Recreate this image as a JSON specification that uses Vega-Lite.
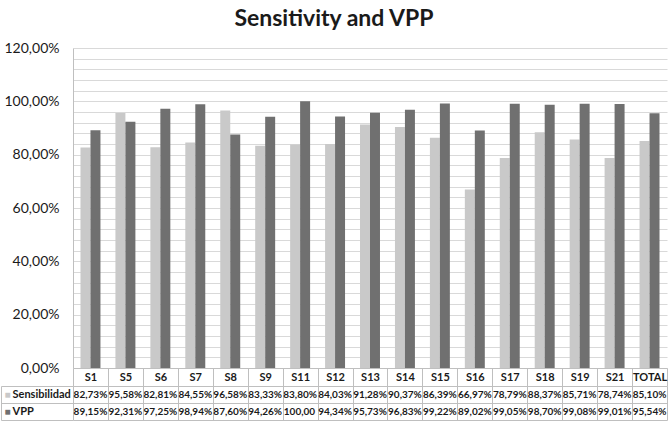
{
  "$schema": "https://vega.github.io/schema/vega-lite/v6.json",
  "padding": {"left": 0, "top": 8, "right": 0, "bottom": 0},
  "background": "#ffffff",
  "title": {
    "text": "Sensitivity and VPP",
    "font": "Lato",
    "fontSize": 23,
    "fontWeight": "bold",
    "color": "#1a1a1a",
    "anchor": "middle",
    "offset": 10
  },
  "datasets": {
    "scores": [
      {"cat": "S1", "serie": "Sensibilidad", "value": 0.8273},
      {"cat": "S1", "serie": "VPP", "value": 0.8915},
      {"cat": "S5", "serie": "Sensibilidad", "value": 0.9558},
      {"cat": "S5", "serie": "VPP", "value": 0.9231},
      {"cat": "S6", "serie": "Sensibilidad", "value": 0.8281},
      {"cat": "S6", "serie": "VPP", "value": 0.9725},
      {"cat": "S7", "serie": "Sensibilidad", "value": 0.8455},
      {"cat": "S7", "serie": "VPP", "value": 0.9894},
      {"cat": "S8", "serie": "Sensibilidad", "value": 0.9658},
      {"cat": "S8", "serie": "VPP", "value": 0.876},
      {"cat": "S9", "serie": "Sensibilidad", "value": 0.8333},
      {"cat": "S9", "serie": "VPP", "value": 0.9426},
      {"cat": "S11", "serie": "Sensibilidad", "value": 0.838},
      {"cat": "S11", "serie": "VPP", "value": 1.0},
      {"cat": "S12", "serie": "Sensibilidad", "value": 0.8403},
      {"cat": "S12", "serie": "VPP", "value": 0.9434},
      {"cat": "S13", "serie": "Sensibilidad", "value": 0.9128},
      {"cat": "S13", "serie": "VPP", "value": 0.9573},
      {"cat": "S14", "serie": "Sensibilidad", "value": 0.9037},
      {"cat": "S14", "serie": "VPP", "value": 0.9683},
      {"cat": "S15", "serie": "Sensibilidad", "value": 0.8639},
      {"cat": "S15", "serie": "VPP", "value": 0.9922},
      {"cat": "S16", "serie": "Sensibilidad", "value": 0.6697},
      {"cat": "S16", "serie": "VPP", "value": 0.8902},
      {"cat": "S17", "serie": "Sensibilidad", "value": 0.7879},
      {"cat": "S17", "serie": "VPP", "value": 0.9905},
      {"cat": "S18", "serie": "Sensibilidad", "value": 0.8837},
      {"cat": "S18", "serie": "VPP", "value": 0.987},
      {"cat": "S19", "serie": "Sensibilidad", "value": 0.8571},
      {"cat": "S19", "serie": "VPP", "value": 0.9908},
      {"cat": "S21", "serie": "Sensibilidad", "value": 0.7874},
      {"cat": "S21", "serie": "VPP", "value": 0.9901},
      {"cat": "TOTAL", "serie": "Sensibilidad", "value": 0.851},
      {"cat": "TOTAL", "serie": "VPP", "value": 0.9554}
    ]
  },
  "data": {"name": "scores"},
  "spacing": 18,
  "bounds": "flush",
  "resolve": {
    "scale": {"x": "independent", "y": "independent"},
    "axis": {"x": "independent", "y": "independent"}
  },
  "vconcat": [
    {
      "width": 594,
      "height": 320,
      "mark": {"type": "bar"},
      "encoding": {
        "x": {
          "field": "cat",
          "type": "nominal",
          "sort": null,
          "scale": {
            "domain": ["S1", "S5", "S6", "S7", "S8", "S9", "S11", "S12", "S13", "S14", "S15", "S16", "S17", "S18", "S19", "S21", "TOTAL"],
            "paddingInner": 0,
            "paddingOuter": 0
          },
          "axis": {
            "orient": "bottom",
            "title": null,
            "labelAngle": 0,
            "ticks": true,
            "tickSize": 18,
            "tickBand": "extent",
            "tickColor": "#bfbfbf",
            "domainColor": "#bfbfbf",
            "labelPadding": -15,
            "labelFont": "Lato",
            "labelFontWeight": "bold",
            "labelFontSize": 11,
            "labelColor": "#1a1a1a",
            "grid": false,
            "minExtent": 18,
            "maxExtent": 18
          }
        },
        "xOffset": {
          "field": "serie",
          "type": "nominal",
          "scale": {"domain": ["Sensibilidad", "VPP"], "paddingInner": 0, "paddingOuter": 0.75}
        },
        "y": {
          "field": "value",
          "type": "quantitative",
          "scale": {"domain": [0, 1.2], "nice": false, "zero": true},
          "axis": {
            "title": null,
            "values": [0, 0.04, 0.08, 0.12, 0.16, 0.2, 0.24, 0.28, 0.32, 0.36, 0.4, 0.44, 0.48, 0.52, 0.56, 0.6, 0.64, 0.68, 0.72, 0.76, 0.8, 0.84, 0.88, 0.92, 0.96, 1.0, 1.04, 1.08, 1.12, 1.16, 1.2],
            "format": ".2%",
            "labelExpr": "round(datum.value * 100) % 20 == 0 ? datum.label : ''",
            "labelOverlap": false,
            "ticks": false,
            "domain": true,
            "domainColor": "#bfbfbf",
            "grid": true,
            "gridColor": "#d9d9d9",
            "labelFont": "Lato",
            "labelFontSize": 14,
            "labelColor": "#1a1a1a",
            "labelPadding": 14,
            "minExtent": 72,
            "maxExtent": 72
          }
        },
        "color": {
          "field": "serie",
          "type": "nominal",
          "scale": {"domain": ["Sensibilidad", "VPP"], "range": ["#c9c9c9", "#707070"]},
          "legend": null
        }
      }
    },
    {
      "width": 594,
      "height": 34,
      "resolve": {"scale": {"y": "independent"}, "axis": {"y": "independent"}},
      "layer": [
        {
          "mark": {
            "type": "text",
            "font": "Lato",
            "fontWeight": "bold",
            "fontSize": 10,
            "color": "#1a1a1a",
            "limit": 36,
            "ellipsis": "\u2009"
          },
          "encoding": {
            "x": {
              "field": "cat",
              "type": "nominal",
              "sort": null,
              "scale": {
                "domain": ["S1", "S5", "S6", "S7", "S8", "S9", "S11", "S12", "S13", "S14", "S15", "S16", "S17", "S18", "S19", "S21", "TOTAL"],
                "paddingInner": 0,
                "paddingOuter": 0
              },
              "axis": {
                "title": null,
                "grid": true,
                "gridColor": "#bfbfbf",
                "tickBand": "extent",
                "labels": false,
                "ticks": false,
                "domain": false
              }
            },
            "y": {
              "field": "serie",
              "type": "nominal",
              "scale": {"domain": ["Sensibilidad", "VPP"], "paddingInner": 0, "paddingOuter": 0},
              "axis": {
                "orient": "left",
                "title": null,
                "domain": false,
                "ticks": true,
                "tickSize": 72,
                "tickBand": "extent",
                "tickColor": "#bfbfbf",
                "grid": true,
                "gridColor": "#bfbfbf",
                "labelAlign": "left",
                "labelPadding": -11,
                "labelFont": "Lato",
                "labelFontWeight": "bold",
                "labelFontSize": 11,
                "labelColor": "#1a1a1a",
                "minExtent": 72,
                "maxExtent": 72
              }
            },
            "text": {"field": "value", "type": "quantitative", "format": ".2%"}
          }
        },
        {
          "mark": {"type": "text", "opacity": 0},
          "encoding": {
            "x": {"field": "cat", "type": "nominal"},
            "y": {
              "field": "serie",
              "type": "nominal",
              "scale": {"domain": ["Sensibilidad", "VPP"], "paddingInner": 0, "paddingOuter": 0},
              "axis": {
                "orient": "left",
                "title": null,
                "offset": 72,
                "domain": true,
                "domainColor": "#bfbfbf",
                "ticks": false,
                "grid": false,
                "labelAlign": "left",
                "labelPadding": -3,
                "labelExpr": "'■'",
                "labelFontSize": 10,
                "labelColor": {"condition": {"test": "datum.value == 'VPP'", "value": "#707070"}, "value": "#c9c9c9"},
                "minExtent": 0,
                "maxExtent": 0
              }
            },
            "text": {"value": ""}
          }
        }
      ]
    }
  ],
  "config": {
    "view": {"stroke": null},
    "locale": {
      "number": {"decimal": ",", "thousands": ".", "grouping": [3], "currency": ["", " €"]}
    }
  }
}
